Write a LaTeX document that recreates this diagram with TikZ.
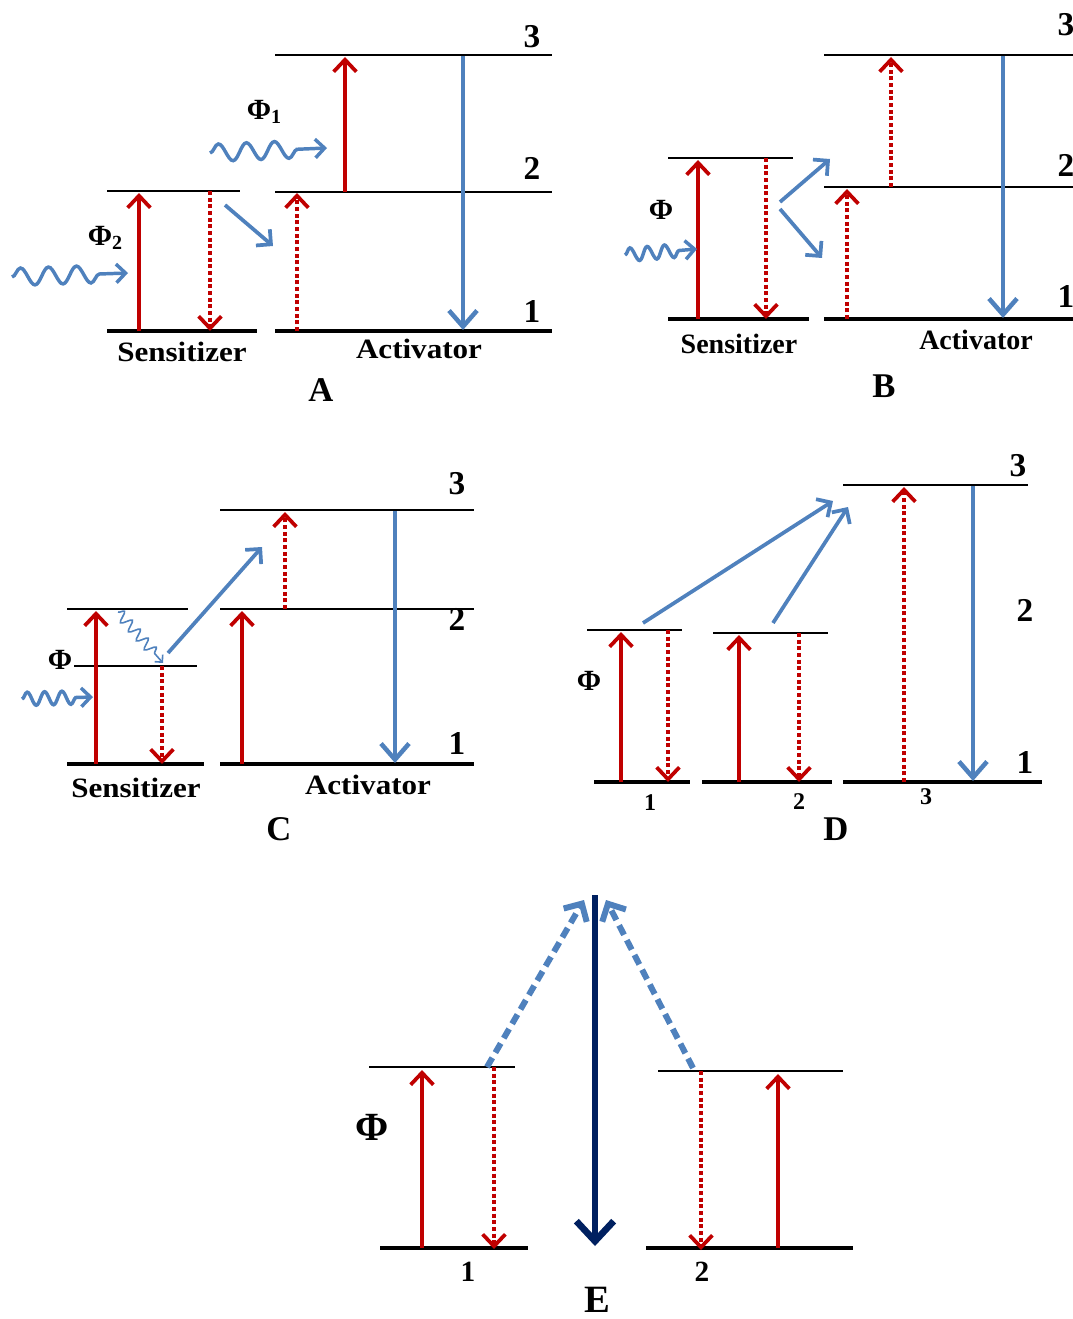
\documentclass[tikz,border=0pt]{standalone}
\usepackage{fontspec}
\usepackage{graphicx}
\setmainfont{Liberation Serif}
\usetikzlibrary{arrows.meta,decorations.pathmorphing}
\definecolor{rd}{RGB}{192,0,0}
\definecolor{bl}{RGB}{79,129,189}
\definecolor{nv}{RGB}{0,32,96}
\newcommand{\widetxt}[1]{\scalebox{1.11}[1]{#1}}
\begin{document}
\begin{tikzpicture}[x=0.75pt,y=-0.75pt,
  lvl/.style={line width=1.6pt},
  lvlb/.style={line width=2.6pt},
  rtip/.style={-{Straight Barb[length=9pt,width=17pt,line width=2.8pt]}},
  rup/.style={rd,line width=3pt,rtip},
  rdot/.style={rd,line width=3.2pt,dash pattern=on 3pt off 2pt,rtip},
  bdown/.style={bl,line width=3.6pt,-{Straight Barb[length=12pt,width=21pt,line width=3.4pt]}},
  bsl/.style={bl,line width=2.8pt,-{Straight Barb[length=8pt,width=16pt,line width=2.8pt]}},
  wave/.style={bl,line width=2.6pt,decorate,decoration={snake,segment length=21pt,amplitude=6.5pt,post length=20pt},-{Straight Barb[length=7pt,width=14pt,line width=2.6pt]}},
  swave/.style={bl,line width=2.6pt,decorate,decoration={snake,segment length=13pt,amplitude=5pt,post length=12pt},-{Straight Barb[length=7pt,width=14pt,line width=2.6pt]}},
  twave/.style={bl,line width=1.2pt,decorate,decoration={snake,segment length=9pt,amplitude=4pt,post length=6pt},-{Straight Barb[length=4pt,width=8pt,line width=1.2pt]}},
  nvdown/.style={nv,line width=5pt,-{Straight Barb[length=15pt,width=28pt,line width=5pt]}},
  bdash/.style={bl,line width=4.5pt,dash pattern=on 8pt off 4.5pt,-{Straight Barb[length=10pt,width=20pt,line width=4.5pt]}},
  word/.style={font=\bfseries\fontsize{21}{24}\selectfont,inner sep=0pt},
  num/.style={font=\bfseries\fontsize{25}{28}\selectfont,inner sep=0pt},
  snum/.style={font=\bfseries\fontsize{18}{20}\selectfont,inner sep=0pt},
  panel/.style={font=\bfseries\fontsize{26}{30}\selectfont,inner sep=0pt},
  phi/.style={font=\bfseries\fontsize{22}{24}\selectfont,inner sep=0pt}
]
\useasboundingbox (0,0) rectangle (1073,1319);
% ===== Panel A =====
\draw[lvl] (107,191) -- (240,191);
\draw[lvlb] (107,331) -- (257,331);
\draw[lvl] (275,55) -- (552,55);
\draw[lvl] (275,192) -- (552,192);
\draw[lvlb] (275,331) -- (552,331);
\draw[rup] (139,331) -- (139,193);
\draw[rdot] (210,191) -- (210,331);
\draw[bsl] (225,205) -- (273,246);
\draw[rdot] (297,331) -- (297,193);
\draw[rup] (345,192) -- (345,57);
\draw[bdown] (463,56) -- (463,330);
\draw[wave] (12,277) -- (128,273);
\draw[wave] (210,153) -- (327,148);
\node[phi] (pA2) at (105,238) {Φ\raisebox{-0.35ex}{\fontsize{15}{15}\selectfont 2}};
\node[phi] (pA1) at (264,112) {Φ\raisebox{-0.35ex}{\fontsize{15}{15}\selectfont 1}};
\node[num] (A3) at (532,37) {3};
\node[num] (A2) at (532,168) {2};
\node[num] (A1) at (532,311) {1};
\node[word] (As) at (182,352) {\widetxt{Sensitizer}};
\node[word] (Aa) at (419,349) {\widetxt{Activator}};
\node[panel] (Al) at (321,390) {A};
% ===== Panel B =====
\draw[lvl] (668,158) -- (793,158);
\draw[lvlb] (668,319) -- (809,319);
\draw[lvl] (824,55) -- (1073,55);
\draw[lvl] (824,187) -- (1073,187);
\draw[lvlb] (824,319) -- (1073,319);
\draw[rup] (698,319) -- (698,160);
\draw[rdot] (766,158) -- (766,319);
\draw[bsl] (780,202) -- (830,159);
\draw[bsl] (780,209) -- (822,258);
\draw[rdot] (847,319) -- (847,189);
\draw[rdot] (891,187) -- (891,57);
\draw[bdown] (1003,56) -- (1003,318);
\draw[swave] (625,255) -- (697,249);
\node[phi] (pB) at (661,210) {Φ};
\node[num] (B3) at (1066,25) {3};
\node[num] (B2) at (1066,165) {2};
\node[num] (B1) at (1066,296) {1};
\node[word] (Bs) at (739,344) {Sensitizer};
\node[word] (Ba) at (976,340) {Activator};
\node[panel] (Bl) at (884,386) {B};
% ===== Panel C =====
\draw[lvl] (67,609) -- (188,609);
\draw[lvl] (74,666) -- (197,666);
\draw[lvlb] (67,764) -- (204,764);
\draw[lvl] (220,510) -- (474,510);
\draw[lvl] (220,609) -- (474,609);
\draw[lvlb] (220,764) -- (474,764);
\draw[rup] (96,764) -- (96,611);
\draw[twave] (118,612) -- (163,663);
\draw[rdot] (162,666) -- (162,764);
\draw[bsl] (168,653) -- (262,547);
\draw[rdot] (285,609) -- (285,512);
\draw[rup] (242,764) -- (242,611);
\draw[bdown] (395,511) -- (395,763);
\draw[swave] (22,699) -- (93,697);
\node[phi] (pC) at (60,660) {Φ};
\node[num] (C3) at (457,484) {3};
\node[num] (C2) at (457,619) {2};
\node[num] (C1) at (457,743) {1};
\node[word] (Cs) at (136,788) {\widetxt{Sensitizer}};
\node[word] (Ca) at (368,785) {\widetxt{Activator}};
\node[panel] (Cl) at (279,829) {C};
% ===== Panel D =====
\draw[lvl] (587,630) -- (682,630);
\draw[lvlb] (594,782) -- (690,782);
\draw[lvl] (713,633) -- (828,633);
\draw[lvlb] (702,782) -- (832,782);
\draw[lvl] (843,485) -- (1028,485);
\draw[lvlb] (843,782) -- (1042,782);
\draw[rup] (621,782) -- (621,632);
\draw[rdot] (668,630) -- (668,782);
\draw[rup] (739,782) -- (739,635);
\draw[rdot] (799,633) -- (799,782);
\draw[rdot] (904,782) -- (904,487);
\draw[bdown] (973,486) -- (973,781);
\draw[bsl] (643,623) -- (833,501);
\draw[bsl] (773,623) -- (848,507);
\node[phi] (pD) at (589,681) {Φ};
\node[num] (D3) at (1018,466) {3};
\node[num] (D2) at (1025,610) {2};
\node[num] (D1) at (1025,762) {1};
\node[snum] (Db1) at (650,803) {1};
\node[snum] (Db2) at (799,802) {2};
\node[snum] (Db3) at (926,797) {3};
\node[panel] (Dl) at (836,829) {D};
% ===== Panel E =====
\draw[lvl] (369,1067) -- (515,1067);
\draw[lvlb] (380,1248) -- (528,1248);
\draw[lvl] (658,1071) -- (843,1071);
\draw[lvlb] (646,1248) -- (853,1248);
\draw[rup] (422,1248) -- (422,1070);
\draw[rdot] (494,1067) -- (494,1249);
\draw[rdot] (701,1071) -- (701,1250);
\draw[rup] (778,1248) -- (778,1074);
\draw[nvdown] (595,895) -- (595,1246);
\draw[bdash] (487,1067) -- (584,900);
\draw[bdash] (693,1068) -- (606,900);
\node[font=\bfseries\fontsize{30}{32}\selectfont,inner sep=0pt] (pE) at (372,1127) {Φ};
\node[font=\bfseries\fontsize{22}{24}\selectfont,inner sep=0pt] (E1) at (468,1272) {1};
\node[font=\bfseries\fontsize{22}{24}\selectfont,inner sep=0pt] (E2) at (702,1272) {2};
\node[font=\bfseries\fontsize{29}{32}\selectfont,inner sep=0pt] (El) at (597,1300) {E};
\end{tikzpicture}
\end{document}
